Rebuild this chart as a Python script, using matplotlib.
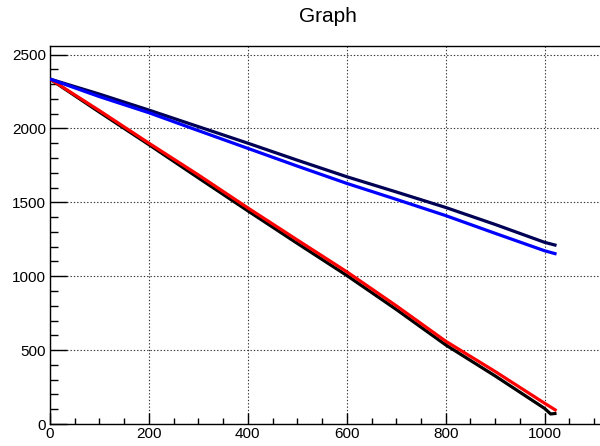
import matplotlib
matplotlib.use("Agg")
import matplotlib.pyplot as plt
from matplotlib.ticker import MultipleLocator

plt.rcParams['font.family'] = ['Liberation Sans', 'DejaVu Sans']

# data
x_main = [0, 100, 200, 300, 400, 500, 600, 700, 800, 900, 1000, 1024]
navy_y = [2334, 2232, 2124, 2012, 1900, 1785, 1673, 1570, 1465, 1350, 1229, 1208]
blue_y = [2334, 2215, 2106, 1985, 1865, 1745, 1628, 1520, 1410, 1290, 1172, 1150]
red_y = [2334, 2120, 1900, 1685, 1462, 1245, 1030, 800, 560, 355, 140, 90]
x_black = [0, 100, 200, 300, 400, 500, 600, 700, 800, 900, 1000, 1012, 1024]
black_y = [2334, 2110, 1890, 1665, 1442, 1222, 1005, 775, 535, 325, 105, 68, 72]

title = "Graph"
x_ticks = [0, 200, 400, 600, 800, 1000]
y_ticks = [0, 500, 1000, 1500, 2000, 2500]

fig = plt.figure(figsize=(6.0, 4.46), dpi=100)
ax = fig.add_axes([50/600, 1-424/446, 557/600, (424-45.5)/446])

lw = 2.3
ax.plot(x_black, black_y, color='black', lw=lw, solid_capstyle='butt', zorder=3)
ax.plot(x_main, red_y, color='#ff0000', lw=lw, solid_capstyle='butt', zorder=4)
ax.plot(x_main, navy_y, color='#000055', lw=lw, solid_capstyle='butt', zorder=3)
ax.plot(x_main, blue_y, color='#0000ff', lw=lw, solid_capstyle='butt', zorder=4)

ax.set_xlim(0, 1126)
ax.set_ylim(0, 2561)
ax.set_xticks(x_ticks)
ax.set_yticks(y_ticks)
ax.xaxis.set_minor_locator(MultipleLocator(50))
ax.yaxis.set_minor_locator(MultipleLocator(100))

ax.grid(True, which='major', color='#333333', lw=0.8, linestyle=(0, (1.2, 1.8)))
ax.set_axisbelow(True)

ax.tick_params(axis='x', which='major', direction='in', length=8, width=1, labelsize=11, pad=2)
ax.tick_params(axis='x', which='minor', direction='in', length=4, width=1)
ax.tick_params(axis='y', which='major', direction='in', length=12, width=1, labelsize=11, pad=3)
ax.tick_params(axis='y', which='minor', direction='in', length=6, width=1)

for s in ['left', 'bottom', 'top']:
    ax.spines[s].set_linewidth(1.0)
ax.spines['right'].set_visible(False)

fig.text(328/600, 1-16/446, title, ha='center', va='center', fontsize=15)

fig.savefig("out.png", dpi=100)
